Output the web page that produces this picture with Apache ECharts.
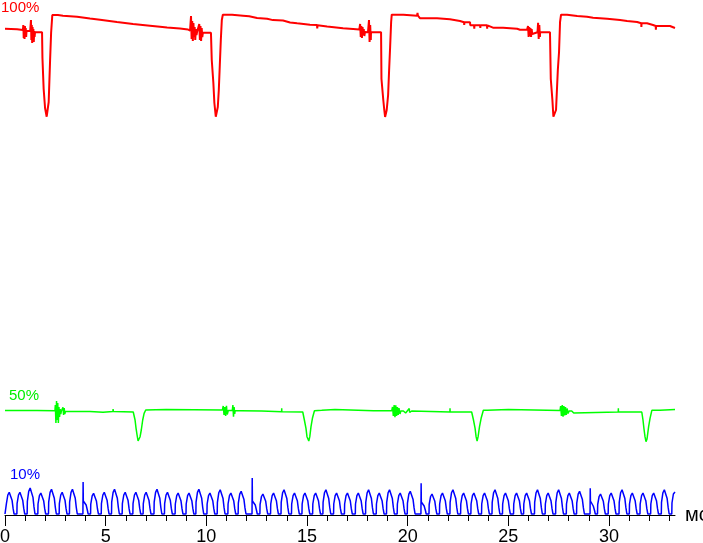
<!DOCTYPE html>
<html>
<head>
<meta charset="utf-8">
<script src="https://cdn.jsdelivr.net/npm/echarts@6/dist/echarts.min.js"></script>
<style>
html,body{margin:0;padding:0;background:#fff;}
#chart{width:703px;height:543px;}
</style>
</head>
<body>
<div id="chart"></div>
<script>
// x: time, ms ; y: screen level units (trace offsets as drawn)
const xMin = 0;
const xMax = 33.28;
const majorTicks = [0, 5, 10, 15, 20, 25, 30];
const minorTicks = [0,1,2,3,4,5,6,7,8,9,10,11,12,13,14,15,16,17,18,19,20,21,22,23,24,25,26,27,28,29,30,31,32,33];
const axisUnit = 'мс';
const traceLabels = ['100%', '50%', '10%'];

// 100% trace (red)
const redPoints = [
[0,486.3],[0.6,485.7],[0.89,485],
[0.91,490],[0.93,477],[0.95,488],[0.97,476],[0.99,489],[1.01,479],[1.03,487],[1.05,478],[1.07,484],[1.09,484],
[1.25,484],
[1.29,495],[1.31,475],[1.33,490],[1.35,472],[1.37,488],[1.39,476],[1.41,486],[1.43,473],[1.45,484],[1.47,478],[1.49,482.7],
[1.84,482.7],[1.86,457],[1.92,426],[1.99,407],[2.07,398.3],[2.1,398],[2.17,413],[2.24,455],[2.29,482],[2.35,500],
[2.63,500],[2.64,499.3],[2.88,499.3],[2.89,499],[3.58,498.3],[3.59,497.7],[4.22,496.5],[4.23,496],[4.72,495.3],[4.73,494.7],
[5.56,493],[5.57,492.7],[6.36,491],[6.37,490.7],[7.2,489.3],[7.7,488.3],[8.05,487.5],[8.69,486.5],[9.09,485.5],[9.19,484.3],
[9.24,499],[9.27,476],[9.3,494],[9.33,474],[9.36,492],[9.39,478],[9.42,488],[9.45,475],[9.48,486],[9.51,480],[9.54,483],
[9.62,483],
[9.65,491],[9.68,475],[9.71,489],[9.74,474],[9.77,487],[9.8,478],[9.83,482.3],
[10.23,482.3],[10.27,455],[10.35,432],[10.4,412],[10.47,398.3],[10.52,398],[10.57,408],[10.62,425],[10.67,450],[10.72,475],[10.77,495],[10.82,500.3],
[11.28,500.3],[11.29,499.3],[11.82,499.3],[12.13,498.7],[12.135,500.5],[12.14,498.7],[12.52,497],[13.02,496.3],
[13.31,494.9],[13.81,494.5],[14.16,492.5],[14.51,491.7],[15.15,490.3],[15.5,490],[15.51,486.5],[15.52,489.8],
[16,488.5],[16.79,486.7],[17.29,486],[17.6,485.5],
[17.64,491],[17.67,478],[17.7,489],[17.73,477],[17.76,488],[17.79,480],[17.82,486],[17.85,479],[17.88,483],
[18.03,482.7],
[18.08,495],[18.11,473],[18.14,490],[18.17,475],[18.18,482.7],
[18.68,482.7],[18.7,436],[18.79,415],[18.84,405],[18.88,398],[18.91,398],[18.96,405],[19.03,420],[19.08,445],[19.13,468],[19.18,493],[19.21,500.3],
[19.79,500.3],[19.8,499.3],[20.47,499.3],[20.49,502],[20.51,499.3],[20.62,496.7],[21.46,496.7],[21.47,495.7],[22.1,495.7],[22.11,494],
[22.6,494],[22.61,492.7],[22.8,492.7],[22.81,490],[22.82,492.7],[23.1,492.7],[23.11,489.7],[23.3,489.7],[23.31,486.3],[23.32,489.7],
[23.6,489.7],[23.61,487],[23.62,489.7],[23.94,489.7],[23.95,486.3],[23.96,489.7],[24.24,487.3],[24.74,487.3],[24.75,486.3],[25.44,486.3],[25.58,485.3],[25.93,485.3],
[25.98,489],[26.01,478],[26.04,488],[26.07,479],[26.1,487],[26.13,478],[26.16,486],[26.19,481],[26.22,483],
[26.45,482.7],
[26.48,492.3],[26.51,476],[26.54,490],[26.57,478],[26.58,482.7],
[27.07,482.7],[27.11,436],[27.19,415],[27.24,398.3],[27.29,397.7],[27.37,405],[27.46,445],[27.52,463],[27.57,493],[27.62,500.3],
[27.92,500.3],[27.93,499],[28.42,499],[28.43,498.3],[28.91,498.3],[28.92,497.3],[29.21,497.3],[29.22,496.3],[29.91,496.3],[29.92,495],
[30.55,495],[30.56,494],[30.9,494],[30.91,493],[31.4,493],[31.41,491.7],[31.6,491.7],[31.61,488],[31.62,491.7],[31.89,491.7],[31.9,490],
[32.19,490],[32.2,489],[32.32,489],[32.33,485.3],[32.34,489],[33.03,489],[33.04,487],[33.28,487]
];

// 50% trace (green)
const greenPoints = [
[0,104.5],[1.59,104.5],[1.6,104.2],[2.48,104.2],
[2.5,110],[2.53,92],[2.56,114],[2.59,95],[2.62,112],[2.65,92],[2.68,108],[2.71,98],[2.74,106],[2.77,101],[2.8,104],
[2.88,107.7],[2.91,100],[2.94,107],[2.97,101],[3,103.5],
[4.22,103.5],[4.25,102.7],[4.87,102.7],[4.9,103.5],[5.36,103.5],[5.37,106],[5.38,103.5],[6.37,103],
[6.46,95],[6.51,86.7],[6.56,80],[6.61,74],[6.66,74],[6.71,78.3],[6.77,85],[6.84,95],[6.91,101.7],[6.99,105],
[8,105.5],[10.8,105],
[10.84,109],[10.88,100],[10.92,108],[10.96,99],[11,109.3],[11.04,100.5],[11.09,104.5],[11.29,104.5],
[11.32,110],[11.35,98.3],[11.38,108],[11.41,101],[11.43,104.3],[11.58,104.3],[11.6,106],[11.65,102.5],[11.71,104.3],
[12.75,104],[12.76,103.3],[13.74,103.3],[13.745,106.7],[13.75,103.3],[13.83,103],[14.79,103],
[14.87,95],[14.95,86.7],[15,78.3],[15.09,74],[15.14,78.3],[15.2,88.3],[15.27,96.7],[15.37,104.3],
[15.73,104.7],[15.74,105.5],[16.39,105.5],[16.4,104.7],[18.3,104.3],[19.21,104.3],
[19.25,108],[19.29,99],[19.33,110],[19.37,97.7],[19.41,109.7],[19.45,99],[19.49,108],[19.53,100],[19.57,107],[19.62,101],[19.66,104],
[19.79,104],[19.85,106],[19.9,102],[19.96,104],[20.08,106.5],[20.1,102.5],[20.2,104],
[22.1,103],[22.105,106.7],[22.11,103],[23.18,103],
[23.27,95],[23.35,86.7],[23.4,78.3],[23.45,74],[23.5,78.3],[23.57,88.3],[23.65,96.7],[23.76,104.7],
[23.96,104.7],[23.97,105.5],[25,105.5],[25.01,104.7],[27.57,104.5],
[27.6,109],[27.64,99],[27.68,110],[27.72,98.3],[27.76,109],[27.8,99.5],[27.84,108],[27.88,100],[27.92,106.5],[27.97,101.5],[28.02,104],
[28.15,104],[28.2,106],[28.25,102],[28.3,104],
[30.46,103],[30.467,106.7],[30.47,103],[31.63,103],
[31.69,95],[31.74,86],[31.79,78.3],[31.84,73.3],[31.89,76],[31.97,88.3],[32.04,96.7],[32.13,104.7],
[32.53,104.7],[32.54,105.5],[33.28,105.5]
];

// 10% trace (blue)
const bluePoints = [
[0,1],
[0.06,1],[0.07,11.4],[0.14,20],[0.21,22.7],[0.29,21.8],[0.35,14.8],[0.4,6.8],[0.45,1],
[0.59,1],[0.6,11.4],[0.67,20],[0.74,22.7],[0.82,21.8],[0.88,14.8],[0.93,6.8],[0.98,1],
[1.1,1],[1.11,13.5],[1.18,23.8],[1.25,27],[1.33,25.9],[1.39,17.6],[1.44,8.1],[1.49,1],
[1.63,1],[1.64,11],[1.71,19.4],[1.78,22],[1.86,21.1],[1.92,14.3],[1.97,6.6],[2.02,1],
[2.16,1],[2.17,12.9],[2.24,22.6],[2.31,25.7],[2.39,24.7],[2.45,16.7],[2.5,7.7],[2.55,1],
[2.69,1],[2.7,11.4],[2.77,20],[2.84,22.7],[2.92,21.8],[2.98,14.8],[3.03,6.8],[3.08,1],
[3.2,1],[3.21,12.9],[3.28,22.6],[3.35,25.7],[3.43,24.7],[3.49,16.7],[3.54,7.7],[3.59,1],
[3.87,1],[3.88,33],[3.89,14],[3.92,16],[3.97,15],[4.03,10],[4.1,4],[4.13,1],
[4.25,1],[4.26,10.9],[4.33,19.1],[4.4,21.7],[4.48,20.8],[4.54,14.1],[4.59,6.5],[4.64,1],
[4.78,1],[4.79,11.4],[4.86,20],[4.93,22.7],[5.01,21.8],[5.07,14.8],[5.12,6.8],[5.17,1],
[5.29,1],[5.3,12.9],[5.37,22.6],[5.44,25.7],[5.52,24.7],[5.58,16.7],[5.63,7.7],[5.68,1],
[5.82,1],[5.83,11.4],[5.9,20],[5.97,22.7],[6.05,21.8],[6.11,14.8],[6.16,6.8],[6.21,1],
[6.35,1],[6.36,11.4],[6.43,20],[6.5,22.7],[6.58,21.8],[6.64,14.8],[6.69,6.8],[6.74,1],
[6.86,1],[6.87,11.4],[6.94,20],[7.01,22.7],[7.09,21.8],[7.15,14.8],[7.2,6.8],[7.25,1],
[7.4,1],[7.41,12.9],[7.48,22.6],[7.55,25.7],[7.63,24.7],[7.69,16.7],[7.74,7.7],[7.79,1],
[7.92,1],[7.93,11.4],[8,20],[8.07,22.7],[8.15,21.8],[8.21,14.8],[8.26,6.8],[8.31,1],
[8.45,1],[8.46,11],[8.53,19.4],[8.6,22],[8.68,21.1],[8.74,14.3],[8.79,6.6],[8.84,1],
[8.99,1],[9,11],[9.07,19.4],[9.14,22],[9.22,21.1],[9.28,14.3],[9.33,6.6],[9.38,1],
[9.48,1],[9.49,12.9],[9.56,22.6],[9.63,25.7],[9.71,24.7],[9.77,16.7],[9.82,7.7],[9.87,1],
[10.03,1],[10.04,11],[10.11,19.4],[10.18,22],[10.26,21.1],[10.32,14.3],[10.37,6.6],[10.42,1],
[10.54,1],[10.55,12.7],[10.62,22.3],[10.69,25.3],[10.77,24.3],[10.83,16.4],[10.88,7.6],[10.93,1],
[11.07,1],[11.08,11],[11.15,19.4],[11.22,22],[11.3,21.1],[11.36,14.3],[11.41,6.6],[11.46,1],
[11.58,1],[11.59,11.9],[11.66,20.9],[11.73,23.7],[11.81,22.8],[11.87,15.4],[11.92,7.1],[11.97,1],
[12.27,1],[12.28,37],[12.29,14],[12.32,16],[12.37,15],[12.43,10],[12.5,4],[12.53,1],
[12.66,1],[12.67,10.5],[12.74,18.5],[12.81,21],[12.89,20.2],[12.95,13.7],[13,6.3],[13.05,1],
[13.19,1],[13.2,11],[13.27,19.4],[13.34,22],[13.42,21.1],[13.48,14.3],[13.53,6.6],[13.58,1],
[13.71,1],[13.72,12.7],[13.79,22.3],[13.86,25.3],[13.94,24.3],[14,16.4],[14.05,7.6],[14.1,1],
[14.23,1],[14.24,11],[14.31,19.4],[14.38,22],[14.46,21.1],[14.52,14.3],[14.57,6.6],[14.62,1],
[14.75,1],[14.76,11],[14.83,19.4],[14.9,22],[14.98,21.1],[15.04,14.3],[15.09,6.6],[15.14,1],
[15.28,1],[15.29,11],[15.36,19.4],[15.43,22],[15.51,21.1],[15.57,14.3],[15.62,6.6],[15.67,1],
[15.79,1],[15.8,12.7],[15.87,22.3],[15.94,25.3],[16.02,24.3],[16.08,16.4],[16.13,7.6],[16.18,1],
[16.32,1],[16.33,11],[16.4,19.4],[16.47,22],[16.55,21.1],[16.61,14.3],[16.66,6.6],[16.71,1],
[16.86,1],[16.87,11],[16.94,19.4],[17.01,22],[17.09,21.1],[17.15,14.3],[17.2,6.6],[17.25,1],
[17.4,1],[17.41,11],[17.48,19.4],[17.55,22],[17.63,21.1],[17.69,14.3],[17.74,6.6],[17.79,1],
[17.91,1],[17.92,12.7],[17.99,22.3],[18.06,25.3],[18.14,24.3],[18.2,16.4],[18.25,7.6],[18.3,1],
[18.44,1],[18.45,11],[18.52,19.4],[18.59,22],[18.67,21.1],[18.73,14.3],[18.78,6.6],[18.83,1],
[18.95,1],[18.96,12.7],[19.03,22.3],[19.1,25.3],[19.18,24.3],[19.24,16.4],[19.29,7.6],[19.34,1],
[19.48,1],[19.49,11],[19.56,19.4],[19.63,22],[19.71,21.1],[19.77,14.3],[19.82,6.6],[19.87,1],
[19.98,1],[19.99,11.9],[20.06,20.9],[20.13,23.7],[20.21,22.8],[20.27,15.4],[20.32,7.1],[20.37,1],
[20.66,1],[20.67,31.7],[20.68,13],[20.71,15],[20.76,14],[20.82,9],[20.89,4],[20.92,1],
[21.06,1],[21.07,10.5],[21.14,18.5],[21.21,21],[21.29,20.2],[21.35,13.7],[21.4,6.3],[21.45,1],
[21.58,1],[21.59,11],[21.66,19.4],[21.73,22],[21.81,21.1],[21.87,14.3],[21.92,6.6],[21.97,1],
[22.1,1],[22.11,12.7],[22.18,22.3],[22.25,25.3],[22.33,24.3],[22.39,16.4],[22.44,7.6],[22.49,1],
[22.63,1],[22.64,11],[22.71,19.4],[22.78,22],[22.86,21.1],[22.92,14.3],[22.97,6.6],[23.02,1],
[23.14,1],[23.15,11],[23.22,19.4],[23.29,22],[23.37,21.1],[23.43,14.3],[23.48,6.6],[23.53,1],
[23.67,1],[23.68,11],[23.75,19.4],[23.82,22],[23.9,21.1],[23.96,14.3],[24.01,6.6],[24.06,1],
[24.19,1],[24.2,12.7],[24.27,22.3],[24.34,25.3],[24.42,24.3],[24.48,16.4],[24.53,7.6],[24.58,1],
[24.71,1],[24.72,11],[24.79,19.4],[24.86,22],[24.94,21.1],[25,14.3],[25.05,6.6],[25.1,1],
[25.26,1],[25.27,11],[25.34,19.4],[25.41,22],[25.49,21.1],[25.55,14.3],[25.6,6.6],[25.65,1],
[25.76,1],[25.77,11],[25.84,19.4],[25.91,22],[25.99,21.1],[26.05,14.3],[26.1,6.6],[26.15,1],
[26.3,1],[26.31,12.7],[26.38,22.3],[26.45,25.3],[26.53,24.3],[26.59,16.4],[26.64,7.6],[26.69,1],
[26.83,1],[26.84,11],[26.91,19.4],[26.98,22],[27.06,21.1],[27.12,14.3],[27.17,6.6],[27.22,1],
[27.35,1],[27.36,12.7],[27.43,22.3],[27.5,25.3],[27.58,24.3],[27.64,16.4],[27.69,7.6],[27.74,1],
[27.88,1],[27.89,11],[27.96,19.4],[28.03,22],[28.11,21.1],[28.17,14.3],[28.22,6.6],[28.27,1],
[28.39,1],[28.4,11.9],[28.47,20.9],[28.54,23.7],[28.62,22.8],[28.68,15.4],[28.73,7.1],[28.78,1],
[29.06,1],[29.07,26.7],[29.08,14],[29.11,15],[29.16,14],[29.22,9],[29.29,4],[29.32,1],
[29.43,1],[29.44,10.5],[29.51,18.5],[29.58,21],[29.66,20.2],[29.72,13.7],[29.77,6.3],[29.82,1],
[29.96,1],[29.97,11],[30.04,19.4],[30.11,22],[30.19,21.1],[30.25,14.3],[30.3,6.6],[30.35,1],
[30.5,1],[30.51,12.7],[30.58,22.3],[30.65,25.3],[30.73,24.3],[30.79,16.4],[30.84,7.6],[30.89,1],
[31.01,1],[31.02,11],[31.09,19.4],[31.16,22],[31.24,21.1],[31.3,14.3],[31.35,6.6],[31.4,1],
[31.54,1],[31.55,11],[31.62,19.4],[31.69,22],[31.77,21.1],[31.83,14.3],[31.88,6.6],[31.93,1],
[32.07,1],[32.08,11],[32.15,19.4],[32.22,22],[32.3,21.1],[32.36,14.3],[32.41,6.6],[32.46,1],
[32.6,1],[32.61,12.7],[32.68,22.3],[32.75,25.3],[32.83,24.3],[32.89,16.4],[32.94,7.6],[32.99,1],
[33.12,1],[33.13,12],[33.2,21],[33.28,23]
];

const FONT = "'Liberation Sans', Arial, sans-serif";
const chart = echarts.init(document.getElementById('chart'), null, {renderer: 'canvas'});

function lineSeries(data, color, width) {
  return {
    type: 'line', data: data, showSymbol: false, symbol: 'none',
    lineStyle: {color: color, width: width}, silent: true, animation: false,
    xAxisIndex: 0, yAxisIndex: 0, z: 3
  };
}

chart.setOption({
  animation: false,
  backgroundColor: '#ffffff',
  grid: {left: 5, right: 28, top: 0, bottom: 28, containLabel: false, outerBoundsMode: 'none'},
  xAxis: [
    {
      type: 'value', min: xMin, max: xMax, position: 'bottom',
      name: axisUnit, nameLocation: 'end', nameGap: 10,
      nameTextStyle: {color: '#000', fontSize: 20, fontFamily: FONT, verticalAlign: 'middle'},
      axisLine: {show: true, lineStyle: {color: '#000', width: 1}},
      axisTick: {show: true, length: 6, lineStyle: {color: '#000', width: 1}, customValues: minorTicks},
      axisLabel: {show: false},
      splitLine: {show: false}
    },
    {
      type: 'value', min: xMin, max: xMax, position: 'bottom',
      axisLine: {show: false},
      axisTick: {show: true, length: 11, lineStyle: {color: '#000', width: 1}, customValues: majorTicks},
      axisLabel: {show: true, customValues: majorTicks, color: '#000', fontSize: 18, fontFamily: FONT, margin: 13},
      splitLine: {show: false}
    }
  ],
  yAxis: {type: 'value', min: 0, max: 515, show: false, splitLine: {show: false}},
  series: [
    lineSeries(redPoints, '#ff0000', 2),
    lineSeries(greenPoints, '#00ff00', 1.5),
    lineSeries(bluePoints, '#0000ff', 1.5)
  ],
  graphic: [
    {type: 'text', left: 1, top: 0, silent: true, style: {text: traceLabels[0], fill: '#ff0000', font: '15px ' + FONT}},
    {type: 'text', left: 9, top: 388, silent: true, style: {text: traceLabels[1], fill: '#00ee00', font: '15px ' + FONT}},
    {type: 'text', left: 10, top: 467, silent: true, style: {text: traceLabels[2], fill: '#0000ff', font: '15px ' + FONT}}
  ]
});
</script>
</body>
</html>
